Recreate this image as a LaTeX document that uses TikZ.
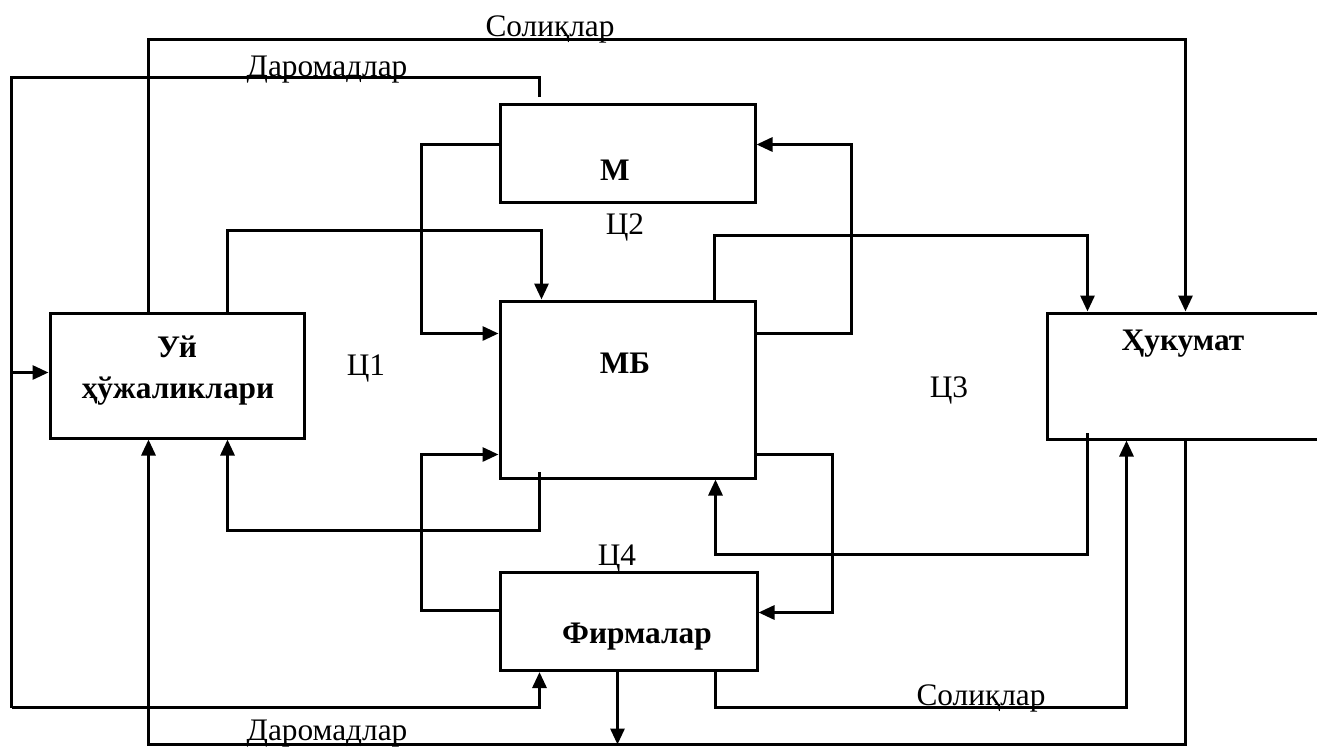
\documentclass[tikz,border=0pt]{standalone}
\usepackage{fontspec}
\setmainfont{Liberation Serif}
\usetikzlibrary{arrows.meta}

\begin{document}
\begin{tikzpicture}[x=0.75pt,y=-0.75pt,
  box/.style={draw, line width=2.25pt, inner sep=0pt},
  wire/.style={line width=2.25pt},
  arr/.style={wire, -{Triangle[length=12pt,width=10.5pt]}},
  lbl/.style={font=\fontsize{23.5}{27}\selectfont, inner sep=0pt, anchor=base},
  blbl/.style={font=\fontsize{23.5}{27}\selectfont\bfseries, inner sep=0pt, anchor=base}]
\useasboundingbox (0,0) rectangle (1317,747);
\clip (0,0) rectangle (1317,747);

% ---- boxes ----
\node[box, minimum width=191.25pt, minimum height=73.5pt]  (M)  at (627.5,153.5) {};
\node[box, minimum width=191.25pt, minimum height=132.75pt] (MB) at (627.5,389.5) {};
\node[box, minimum width=192.75pt, minimum height=73.5pt]  (F)  at (628.5,621.5) {};
\node[box, minimum width=190.5pt,  minimum height=93.75pt] (U)  at (177,375.5)   {};
\node[box, minimum width=219.75pt, minimum height=94.5pt]  (G)  at (1193.5,376)  {};

% ---- box titles ----
\node[blbl] (tM)  at (615,180)  {М};
\node[blbl] (tMB) at (625,373)  {МБ};
\node[blbl] (tU1) at (177,357)  {Уй};
\node[blbl] (tU2) at (178,398)  {ҳўжаликлари};
\node[blbl] (tG)  at (1183,350) {Ҳукумат};
\node[blbl] (tF)  at (637,643)  {Фирмалар};

% ---- circuit labels ----
\node[lbl] (c1) at (366,375) {Ц1};
\node[lbl] (c2) at (625,234) {Ц2};
\node[lbl] (c3) at (949,397) {Ц3};
\node[lbl] (c4) at (617,565) {Ц4};

% ---- flow labels ----
\node[lbl] (s1) at (550,36)  {Солиқлар};
\node[lbl] (d1) at (327,76)  {Даромадлар};
\node[lbl] (s2) at (981,705) {Солиқлар};
\node[lbl] (d2) at (327,740) {Даромадлар};

% ---- bend points ----
\coordinate (xL)  at (11.5,0);
\coordinate (xA)  at (148.5,0);
\coordinate (xB)  at (227.5,0);
\coordinate (xC)  at (421.5,0);
\coordinate (xD)  at (539.5,0);
\coordinate (xE)  at (541.5,0);
\coordinate (xF)  at (617.5,0);
\coordinate (xG)  at (714.5,0);
\coordinate (xH)  at (715.5,0);
\coordinate (xI)  at (832.5,0);
\coordinate (xJ)  at (851.5,0);
\coordinate (xK)  at (1087.5,0);
\coordinate (xN)  at (1126.5,0);
\coordinate (xP)  at (1185.5,0);

\coordinate (yTax)  at (0,39.5);
\coordinate (yInc)  at (0,77.5);
\coordinate (yMtop) at (0,97);
\coordinate (yM)    at (0,144.5);
\coordinate (yUM)   at (0,230.5);
\coordinate (yMG)   at (0,235.5);
\coordinate (yMBa)  at (0,333.5);
\coordinate (yU)    at (0,372.5);
\coordinate (yMBb)  at (0,454.5);
\coordinate (yMBin) at (0,472);
\coordinate (yMU)   at (0,530.5);
\coordinate (yGM)   at (0,554.5);
\coordinate (yF)    at (0,610.5);
\coordinate (yFr)   at (0,612.5);
\coordinate (yGin)  at (0,433);
\coordinate (yLow)  at (0,707.5);
\coordinate (yBot)  at (0,744.5);

% taxes from households to government (top)
\draw[arr] (xA |- U.north) -- (xA |- yTax) -- (xP |- yTax) -- (xP |- G.north);
% incomes from M to households and to firms
\draw[wire] (xD |- yMtop) -- (xD |- yInc) -- (xL |- yInc) -- (xL |- yLow);
\draw[arr] (xL |- yLow) -- (xD |- yLow) -- (xD |- F.south);
\draw[arr] (xL |- yU) -- (U.west |- yU);
% households -> MB
\draw[arr] (xB |- U.north) -- (xB |- yUM) -- (xE |- yUM) -- (xE |- MB.north);
% M -> MB
\draw[arr] (M.west |- yM) -- (xC |- yM) -- (xC |- yMBa) -- (MB.west |- yMBa);
% MB -> M
\draw[arr] (MB.east |- yMBa) -- (xJ |- yMBa) -- (xJ |- yM) -- (M.east |- yM);
% MB -> government
\draw[arr] (xG |- MB.north) -- (xG |- yMG) -- (xK |- yMG) -- (xK |- G.north);
% MB -> households
\draw[arr] (xD |- yMBin) -- (xD |- yMU) -- (xB |- yMU) -- (xB |- U.south);
% firms -> MB
\draw[arr] (F.west |- yF) -- (xC |- yF) -- (xC |- yMBb) -- (MB.west |- yMBb);
% MB -> firms
\draw[arr] (MB.east |- yMBb) -- (xI |- yMBb) -- (xI |- yFr) -- (F.east |- yFr);
% government -> MB
\draw[arr] (xK |- yGin) -- (xK |- yGM) -- (xH |- yGM) -- (xH |- MB.south);
% taxes from firms to government (bottom)
\draw[arr] (xH |- F.south) -- (xH |- yLow) -- (xN |- yLow) -- (xN |- G.south);
% incomes from government to households (bottom)
\draw[arr] (xP |- G.south) -- (xP |- yBot) -- (xA |- yBot) -- (xA |- U.south);
% firms -> bottom income line
\draw[arr] (xF |- F.south) -- (xF |- yBot);
\end{tikzpicture}
\end{document}
